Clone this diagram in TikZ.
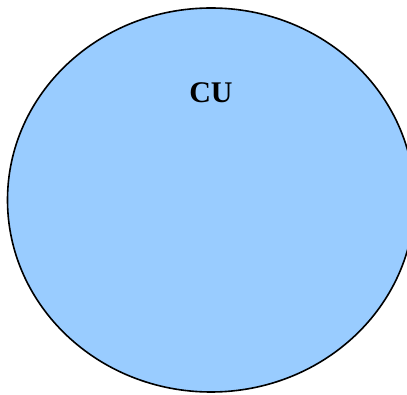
\documentclass[tikz,border=0pt]{standalone}
\usepackage{fontspec}
\setmainfont{Liberation Serif}
\definecolor{cublue}{HTML}{99CCFF}
\tikzset{
    unit/.style={draw=black, line width=1.6pt, fill=cublue},
    unitlabel/.style={font=\fontsize{30}{36}\selectfont\bfseries}
}
\begin{document}
\begin{tikzpicture}[x=1pt, y=-1pt]
    % canvas
    \useasboundingbox (0,0) rectangle (407,395);
    \clip (0,0) rectangle (407,395);
    % control unit
    \draw[unit] (211,200) ellipse [x radius=203.5, y radius=192];
    \node[unitlabel] (cu) at (211,93) {CU};
\end{tikzpicture}
\end{document}
